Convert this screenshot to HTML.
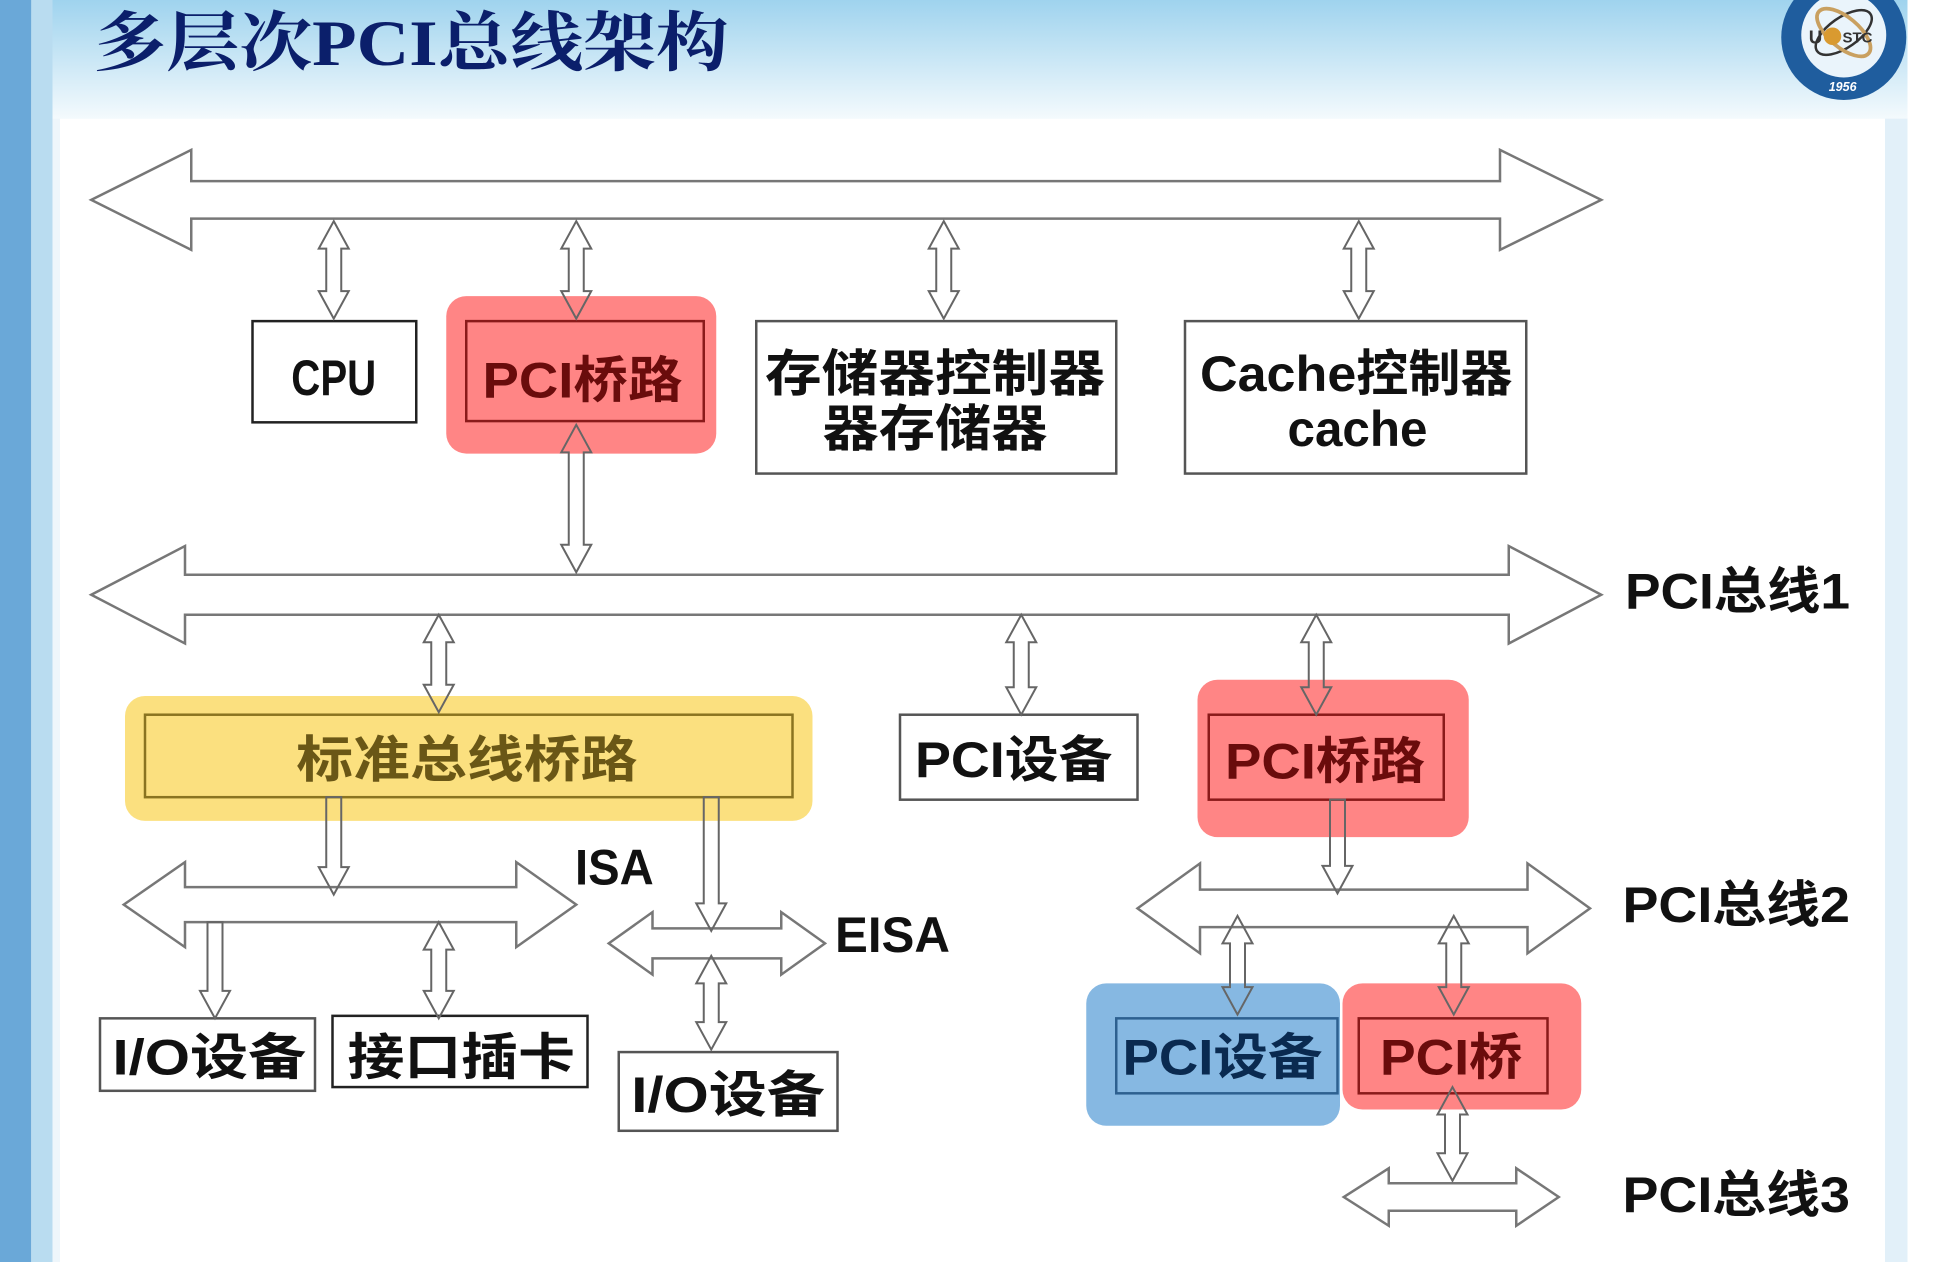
<!DOCTYPE html>
<html><head><meta charset="utf-8"><style>
html,body{margin:0;padding:0;background:#fff}
svg{display:block}
text{font-family:"Liberation Sans","Noto Sans CJK SC",sans-serif;font-weight:bold}
</style></head><body>
<svg width="1960" height="1262" viewBox="0 0 1568 1010" preserveAspectRatio="none" xmlns="http://www.w3.org/2000/svg">
<defs>
<linearGradient id="hdr" x1="0" y1="0" x2="0" y2="1">
<stop offset="0" stop-color="#9fd3ee"/><stop offset="1" stop-color="#f4fafd"/>
</linearGradient>
</defs>
<rect x="0" y="0" width="1568" height="1010" fill="#eef6fb"/>
<rect x="0" y="0" width="1568" height="95" fill="url(#hdr)"/>
<rect x="48" y="95" width="1460" height="915" fill="#ffffff"/>
<rect x="1508" y="95" width="18" height="915" fill="#e2f0f9"/>
<rect x="1526" y="0" width="42" height="1010" fill="#ffffff"/>
<rect x="0" y="0" width="25" height="1010" fill="#6aa8d8"/>
<rect x="25" y="0" width="17" height="1010" fill="#b9dcf0"/>
<text x="75" y="52" font-size="52" fill="#0b1f6b" style="font-family:'Liberation Serif','Noto Serif CJK SC',serif" textLength="508" lengthAdjust="spacingAndGlyphs">多层次PCI总线架构</text>
<!-- logo -->
<circle cx="1475" cy="30" r="50" fill="#1f5d9e"/>
<circle cx="1475" cy="28" r="34" fill="#eaf4fb"/>
<ellipse cx="1475" cy="26" rx="26" ry="12" fill="none" stroke="#333" stroke-width="2" transform="rotate(-35 1475 26)"/>
<ellipse cx="1475" cy="26" rx="26" ry="12" fill="none" stroke="#c9a060" stroke-width="3" transform="rotate(40 1475 26)"/>
<text x="1447" y="35" font-size="15" fill="#333">U</text><circle cx="1466" cy="29" r="7" fill="#d99a30"/>
<text x="1474" y="34" font-size="12" fill="#333">STC</text>
<text x="1463" y="73" font-size="10" fill="#fff" style="font-style:italic">1956</text>

<!-- highlights -->
<rect x="357" y="237" width="216" height="126" rx="16" fill="#ff8585"/>
<rect x="100" y="557" width="550" height="100" rx="16" fill="#fbe07f"/>
<rect x="958" y="544" width="217" height="126" rx="16" fill="#ff8585"/>
<rect x="869" y="787" width="203" height="114" rx="16" fill="#86b8e2"/>
<rect x="1074" y="787" width="191" height="101" rx="16" fill="#ff8585"/>

<!-- boxes -->
<g fill="#fff" stroke="#222" stroke-width="2">
<rect x="202" y="257" width="131" height="81"/>
<rect x="605" y="257" width="288" height="122" stroke="#555"/>
<rect x="948" y="257" width="273" height="122" stroke="#555"/>
<rect x="720" y="572" width="190" height="68" stroke="#555"/>
<rect x="80" y="815" width="172" height="58" stroke="#555"/>
<rect x="266" y="813" width="204" height="57"/>
<rect x="495" y="842" width="175" height="63" stroke="#555"/>
</g>
<g fill="none" stroke-width="2">
<rect x="373" y="257" width="190" height="80" stroke="#8a1a1a"/>
<rect x="116" y="572" width="518" height="66" stroke="#8a7420"/>
<rect x="967" y="572" width="188" height="68" stroke="#8a1a1a"/>
<rect x="893" y="815" width="177" height="60" stroke="#2d6090"/>
<rect x="1087" y="815" width="151" height="60" stroke="#8a1a1a"/>
</g>

<!-- buses -->
<g fill="#fff" stroke="#777" stroke-width="2">
<polygon points="73,160 153,120 153,145 1200,145 1200,120 1281,160 1200,200 1200,175 153,175 153,200"/>
<polygon points="73,476 148,437 148,460 1207,460 1207,437 1281,476 1207,515 1207,492 148,492 148,515"/>
<polygon points="99,724 148,690 148,710 413,710 413,690 461,724 413,758 413,738 148,738 148,758"/>
<polygon points="487,755 522,730 522,743 625,743 625,730 660,755 625,780 625,767 522,767 522,780"/>
<polygon points="910,727 960,691 960,712 1222,712 1222,691 1272,727 1222,763 1222,742 960,742 960,763"/>
<polygon points="1075,958 1111,935 1111,947 1213,947 1213,935 1247,958 1213,981 1213,969 1111,969 1111,981"/>
</g>
<!-- vertical arrows -->
<g fill="none" stroke="#666" stroke-width="1.6">
<polygon points="267,177 279,199 273,199 273,233 279,233 267,255 255,233 261,233 261,199 255,199" fill="#fff"/>
<polygon points="461,177 473,199 467,199 467,233 473,233 461,255 449,233 455,233 455,199 449,199"/>
<polygon points="755,177 767,199 761,199 761,233 767,233 755,255 743,233 749,233 749,199 743,199" fill="#fff"/>
<polygon points="1087,177 1099,199 1093,199 1093,233 1099,233 1087,255 1075,233 1081,233 1081,199 1075,199" fill="#fff"/>
<polygon points="461,340 473,362 467,362 467,436 473,436 461,458 449,436 455,436 455,362 449,362"/>
<polygon points="351,492 363,514 357,514 357,548 363,548 351,570 339,548 345,548 345,514 339,514"/>
<polygon points="817,492 829,514 823,514 823,550 829,550 817,572 805,550 811,550 811,514 805,514" fill="#fff"/>
<polygon points="1053,492 1065,514 1059,514 1059,550 1065,550 1053,572 1041,550 1047,550 1047,514 1041,514"/>
<polygon points="261,638 273,638 273,694 279,694 267,716 255,694 261,694"/>
<polygon points="563,638 575,638 575,723 581,723 569,745 557,723 563,723"/>
<polygon points="1064,640 1076,640 1076,693 1082,693 1070,715 1058,693 1064,693"/>
<polygon points="166,738 178,738 178,793 184,793 172,815 160,793 166,793"/>
<polygon points="351,738 363,760 357,760 357,793 363,793 351,815 339,793 345,793 345,760 339,760"/>
<polygon points="569,765 581,787 575,787 575,818 581,818 569,840 557,818 563,818 563,787 557,787"/>
<polygon points="990,733 1002,755 996,755 996,790 1002,790 990,812 978,790 984,790 984,755 978,755"/>
<polygon points="1163,733 1175,755 1169,755 1169,790 1175,790 1163,812 1151,790 1157,790 1157,755 1151,755"/>
<polygon points="1162,870 1174,892 1168,892 1168,923 1174,923 1162,945 1150,923 1156,923 1156,892 1150,892"/>
</g>

<!-- labels -->
<g font-size="40" fill="#111">
<text x="233" y="316" textLength="68" lengthAdjust="spacingAndGlyphs">CPU</text>
<text x="386" y="318" textLength="160" lengthAdjust="spacingAndGlyphs" fill="#6a0c0c">PCI桥路</text>
<text x="612" y="313" textLength="272" lengthAdjust="spacingAndGlyphs">存储器控制器</text>
<text x="658" y="357" textLength="180" lengthAdjust="spacingAndGlyphs">器存储器</text>
<text x="960" y="313" textLength="250" lengthAdjust="spacingAndGlyphs">Cache控制器</text>
<text x="1030" y="357" textLength="112" lengthAdjust="spacingAndGlyphs">cache</text>
<text x="1300" y="487" textLength="180" lengthAdjust="spacingAndGlyphs">PCI总线1</text>
<text x="237" y="622" textLength="273" lengthAdjust="spacingAndGlyphs" fill="#6a5716">标准总线桥路</text>
<text x="732" y="622" textLength="158" lengthAdjust="spacingAndGlyphs">PCI设备</text>
<text x="980" y="623" textLength="160" lengthAdjust="spacingAndGlyphs" fill="#6a0c0c">PCI桥路</text>
<text x="460" y="708" textLength="63" lengthAdjust="spacingAndGlyphs">ISA</text>
<text x="668" y="762" textLength="92" lengthAdjust="spacingAndGlyphs">EISA</text>
<text x="1298" y="738" textLength="182" lengthAdjust="spacingAndGlyphs">PCI总线2</text>
<text x="90" y="860" textLength="155" lengthAdjust="spacingAndGlyphs">I/O设备</text>
<text x="278" y="860" textLength="182" lengthAdjust="spacingAndGlyphs">接口插卡</text>
<text x="505" y="890" textLength="155" lengthAdjust="spacingAndGlyphs">I/O设备</text>
<text x="898" y="860" textLength="160" lengthAdjust="spacingAndGlyphs" fill="#0a2a50">PCI设备</text>
<text x="1104" y="860" textLength="114" lengthAdjust="spacingAndGlyphs" fill="#6a0c0c">PCI桥</text>
<text x="1298" y="970" textLength="182" lengthAdjust="spacingAndGlyphs">PCI总线3</text>
</g>
</svg>
</body></html>
